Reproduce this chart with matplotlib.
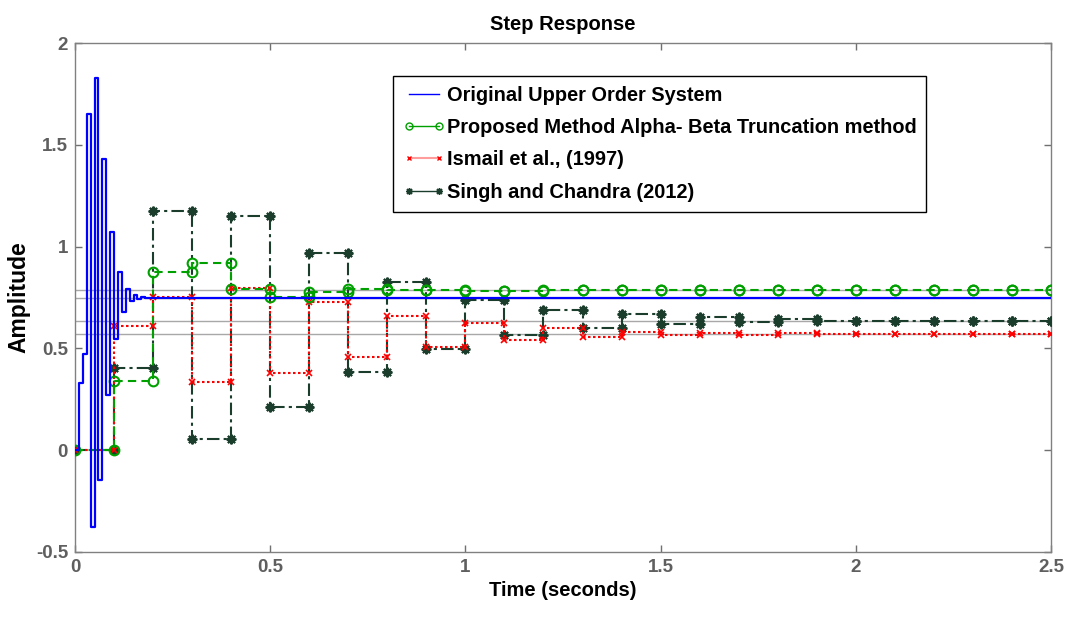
import numpy as np
import matplotlib
matplotlib.use("Agg")
import matplotlib.pyplot as plt
from matplotlib.lines import Line2D

plt.rcParams["font.family"] = ["Liberation Sans", "DejaVu Sans"]
plt.rcParams["font.weight"] = "bold"

# Original (high order) system, sampled every 0.01 s
orig_dt = 0.01
orig_values = [0, 0.332, 0.474, 1.65, -0.376, 1.83, -0.144, 1.43, 0.27, 1.073,
               0.544, 0.874, 0.678, 0.792, 0.732, 0.763, 0.742, 0.751, 0.747, 0.749]
orig_final = 0.749
t_end = 2.5

# Reduced models, sampled every 0.1 s (t = 0 ... 2.5)
model_dt = 0.1
proposed = [0, 0.338, 0.874, 0.918, 0.792, 0.752, 0.776, 0.792, 0.788, 0.788,
            0.781, 0.781, 0.788, 0.788, 0.788, 0.788, 0.788, 0.788, 0.788, 0.788,
            0.788, 0.788, 0.788, 0.788, 0.788, 0.788]
ismail = [0, 0.608, 0.752, 0.335, 0.796, 0.381, 0.727, 0.458, 0.658, 0.506,
          0.624, 0.539, 0.600, 0.556, 0.583, 0.564, 0.578, 0.568, 0.574, 0.571,
          0.572, 0.572, 0.572, 0.572, 0.572, 0.572]
singh = [0, 0.404, 1.176, 0.057, 1.152, 0.212, 0.967, 0.384, 0.826, 0.495,
         0.739, 0.564, 0.690, 0.601, 0.668, 0.621, 0.653, 0.629, 0.642, 0.634,
         0.637, 0.636, 0.636, 0.636, 0.636, 0.636]

labels = ["Original Upper Order System",
          "Proposed Method Alpha- Beta Truncation method",
          "Ismail et al., (1997)",
          "Singh and Chandra (2012)"]

x_ticks = [0, 0.5, 1, 1.5, 2, 2.5]
x_ticklabels = ["0", "0.5", "1", "1.5", "2", "2.5"]
y_ticks = [-0.5, 0, 0.5, 1, 1.5, 2]
y_ticklabels = ["-0.5", "0", "0.5", "1", "1.5", "2"]

blue = "#0000ff"
green = "#00a000"
red = "#ff0000"
dark = "#1a3d2c"
grey_txt = "#5f5f5f"

fig = plt.figure(figsize=(10.73, 6.17), dpi=100)
ax = fig.add_axes([75 / 1073, 65 / 617, 976 / 1073, 509 / 617])

# steady-state reference lines
for final in [orig_final, proposed[-1], ismail[-1], singh[-1]]:
    ax.axhline(final, color="#a8a8a8", lw=1.0, zorder=1)

# original system
t_orig = np.append(np.arange(len(orig_values)) * orig_dt, t_end)
y_orig = np.append(orig_values, orig_final)
ax.step(t_orig, y_orig, where="post", color=blue, lw=1.6, zorder=5)


def stairs(ax, values, color, ls, marker, ms, mfc, mew, z):
    y = np.asarray(values, dtype=float)
    t = np.arange(len(y)) * model_dt
    ax.step(t, y, where="post", color=color, ls=ls, lw=1.5, zorder=z)
    # markers on both corners of each stair
    ax.plot(t, y, ls="none", marker=marker, ms=ms, mfc=mfc, mec=color,
            mew=mew, zorder=z + 0.5)
    ax.plot(t[1:], y[:-1], ls="none", marker=marker, ms=ms, mfc=mfc, mec=color,
            mew=mew, zorder=z + 0.5)


stairs(ax, singh, dark, (0, (6, 2, 1.5, 2)), (8, 2, 0), 7, dark, 1.5, 3)
stairs(ax, ismail, red, (0, (1.2, 1.2)), "x", 4, red, 1.2, 4)
stairs(ax, proposed, green, (0, (4, 2.5)), "o", 7, "none", 1.5, 4.2)

ax.set_xlim(0, t_end)
ax.set_ylim(-0.5, 2)
ax.set_xticks(x_ticks)
ax.set_xticklabels(x_ticklabels)
ax.set_yticks(y_ticks)
ax.set_yticklabels(y_ticklabels)
ax.tick_params(direction="in", length=5, width=1, colors="#707070",
               labelcolor=grey_txt, labelsize=13.5, top=True, right=True, pad=5)
for lab in ax.get_xticklabels() + ax.get_yticklabels():
    lab.set_fontweight("bold")
for sp in ax.spines.values():
    sp.set_color("#808080")
    sp.set_linewidth(1.0)

ax.set_title("Step Response", fontsize=14.5, fontweight="bold", color="black", pad=9)
ax.set_xlabel("Time (seconds)", fontsize=14.5, fontweight="bold", color="black", labelpad=4)
ax.set_ylabel("Amplitude", fontsize=16.5, fontweight="bold", color="black", labelpad=4)

handles = [
    Line2D([], [], color=blue, lw=1.0),
    Line2D([], [], color=green, lw=1.0, marker="o", ms=5, mfc="none", mec=green),
    Line2D([], [], color="#ff9c9c", lw=1.5, marker="x", ms=3, mec=red),
    Line2D([], [], color=dark, lw=1.0, marker=(8, 2, 0), ms=5, mec=dark, mfc=dark),
]
leg = ax.legend(handles, labels, loc="upper left",
                bbox_to_anchor=(393 / 1073, 1 - 76 / 617),
                bbox_transform=fig.transFigure, numpoints=2,
                fontsize=14.4, handlelength=2.1, handletextpad=0.08,
                borderpad=0.5, labelspacing=0.66, borderaxespad=0,
                fancybox=False, framealpha=1, edgecolor="black")
leg.get_frame().set_linewidth(1.0)
for txt in leg.get_texts():
    txt.set_fontweight("bold")

fig.savefig("out.png", dpi=100)
